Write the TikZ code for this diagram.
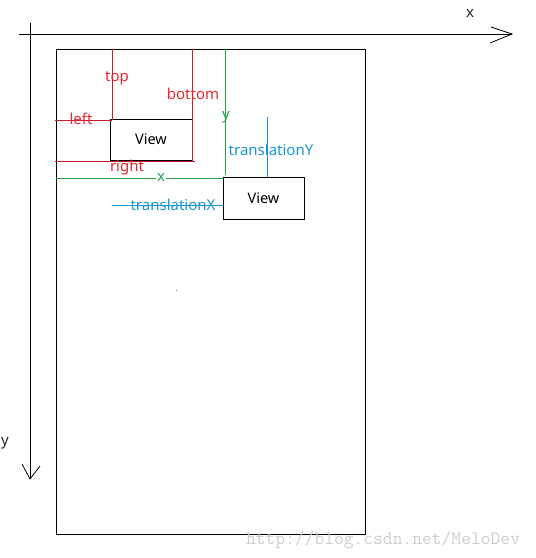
\documentclass[tikz,border=0pt]{standalone}
\usepackage{fontspec}
\setmainfont{Noto Sans}
\definecolor{redline}{RGB}{196,30,45}
\definecolor{redtext}{RGB}{230,40,45}
\definecolor{greenc}{RGB}{40,165,75}
\definecolor{bluec}{RGB}{25,150,210}
\definecolor{wm}{RGB}{205,205,205}
\begin{document}
\begin{tikzpicture}[x=1pt,y=-1pt,
  lbl/.style={inner sep=0pt,font=\fontsize{15}{17}\selectfont},
  viewbox/.style={draw=black,line width=0.9pt,inner sep=0pt,font=\fontsize{14.5}{17}\selectfont},
  axis/.style={draw=black,line width=0.8pt},
  rl/.style={draw=redline,line width=0.8pt},
  gl/.style={draw=greenc,line width=0.8pt},
  bl/.style={draw=bluec,line width=0.9pt}]
\useasboundingbox (0,0) rectangle (536,558);
% axes
\coordinate (xs) at (19,34); \coordinate (xe) at (512,34);
\coordinate (ys) at (30,23); \coordinate (ye) at (30,479);
\draw[axis] (xs) -- (xe);
\draw[axis] (491,27) -- (xe) -- (490,43);
\draw[axis] (ys) -- (ye);
\draw[axis] (22,464) -- (ye) -- (40,466);
\node[lbl,text=black!85] (xl) at (470,13) {x};
\node[lbl,text=black!85] (yl) at (5,443) {y};
% screen
\node[draw=black,line width=0.9pt,minimum width=309pt,minimum height=485pt,inner sep=0pt] (screen) at (210.5,291.5) {};
% view 1
\node[viewbox,minimum width=82pt,minimum height=41pt] (v1) at (151,139.5) {View};
% view 2
\node[viewbox,minimum width=81pt,minimum height=42pt] (v2) at (263.5,198) {View};
% red lines
\coordinate (t0) at (112,49); \coordinate (t1) at (112,120);
\coordinate (b0) at (192,49); \coordinate (b1) at (192,161);
\coordinate (l0) at (55,120); \coordinate (r0) at (55,161); \coordinate (r1) at (195,161);
\draw[rl] (t0) -- (t1);
\draw[rl] (b0) -- (b1);
\draw[rl] (l0) -- (t1);
\draw[rl] (r0) -- (r1);
\node[lbl,text=redtext] (top) at (117,78) {top};
\node[lbl,text=redtext] (bottom) at (193,94) {bottom};
\node[lbl,text=redtext] (left) at (81,119) {left};
\node[lbl,text=redtext] (right) at (127,168) {right};
% green lines
\coordinate (g0) at (225,49); \coordinate (g1) at (225,175);
\coordinate (gx0) at (56,178);
\draw[gl] (g0) -- (g1);
\draw[gl] (gx0) -- (v2.west |- gx0);
\node[lbl,text=greenc] (gy) at (226,117) {y};
\node[lbl,text=greenc,fill=white,inner xsep=1pt] (gx) at (161,177) {x};
% blue lines
\coordinate (ty0) at (267,117);
\coordinate (tx0) at (112,205);
\draw[bl] (ty0) -- (ty0 |- v2.north);
\draw[bl] (tx0) -- (v2.west |- tx0);
\node[lbl,text=bluec] (ty) at (271,150) {translationY};
\node[lbl,text=bluec] (tx) at (173,205) {translationX};
\fill[bluec] (176,289.5) rectangle (177,290.5);
% watermark
\node[inner sep=0pt,text=wm,font=\fontfamily{lmtt}\selectfont\fontsize{19}{21}\selectfont] (wmk) at (383,540) {http://blog.csdn.net/MeloDev};
\end{tikzpicture}
\end{document}
